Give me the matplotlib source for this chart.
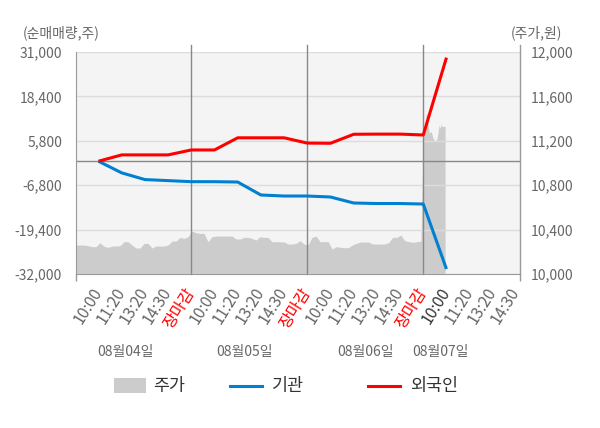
import numpy as np
import matplotlib
matplotlib.use('Agg')
import matplotlib.pyplot as plt
import matplotlib.transforms as mtransforms
from matplotlib.lines import Line2D
from matplotlib.patches import Rectangle
from matplotlib.ticker import FuncFormatter, FixedLocator

plt.rcParams['font.family'] = ['Noto Sans CJK KR', 'DejaVu Sans']

# ---------------- data ----------------
day_labels = ['08월04일', '08월05일', '08월06일', '08월07일']
day_label_pos = [2.14, 7.31, 12.49, 15.76]
tick_labels = ['10:00', '11:20', '13:20', '14:30', '장마감'] * 3 + ['10:00', '11:20', '13:20', '14:30']
tick_pos = list(range(1, 20))

flow_pos = list(range(1, 17))
inst = [0, -3300, -5200, -5500, -5800, -5800, -5900, -9580, -9870, -9870,
        -10150, -11850, -12000, -12000, -12140, -30590]
foreign = [0, 1800, 1800, 1800, 3200, 3200, 6650, 6650, 6650, 5150,
           5100, 7650, 7700, 7700, 7450, 29400]

price_d1 = [10261, 10261, 10261, 10255, 10246, 10246, 10282, 10250, 10240, 10252,
            10252, 10255, 10291, 10291, 10261, 10234, 10234, 10276, 10276, 10234,
            10252, 10252, 10252, 10261, 10297, 10297, 10330, 10321, 10336]
price_d2 = [10387, 10372, 10366, 10366, 10290, 10336, 10342, 10342, 10342, 10342,
            10342, 10315, 10315, 10330, 10330, 10321, 10306, 10336, 10330, 10330,
            10291, 10291, 10291, 10288, 10270, 10270, 10276, 10300, 10270]
price_d3 = [10261, 10330, 10342, 10291, 10291, 10291, 10225, 10246, 10240, 10237,
            10237, 10261, 10276, 10288, 10288, 10288, 10270, 10270, 10270, 10270,
            10282, 10330, 10330, 10351, 10300, 10291, 10285, 10291, 10297]
price_d4 = [11252, 11270, 11300, 11448, 11432, 11342, 11267, 11280, 11280, 11252,
            11222, 11207, 11192, 11207, 11222, 11282, 11342, 11310, 11351, 11325,
            11330, 11330, 11330]

# ---------------- figure ----------------
fig = plt.figure(figsize=(6.0, 4.28), dpi=100)
ax = fig.add_axes([76 / 600, 1 - 274 / 428, 444 / 600, 222 / 428])
ax2 = ax.twinx()

ax.set_zorder(2)
ax2.set_zorder(1)
ax.patch.set_visible(False)
ax2.patch.set_visible(True)
ax2.set_facecolor('#f4f4f4')

x0, x1 = 0.03, 19.17
ax.set_xlim(x0, x1)
ax.set_ylim(-32000, 31000)
ax2.set_ylim(10000, 12000)

# price area
px = np.concatenate([
    np.linspace(0.03, 4.86, len(price_d1)),
    np.linspace(5.03, 9.86, len(price_d2)),
    np.linspace(10.03, 14.90, len(price_d3)),
    np.linspace(15.0, 15.94, len(price_d4)),
])
pv = np.array(price_d1 + price_d2 + price_d3 + price_d4)
ax2.fill_between(px, 10000, pv, color='#cccccc', linewidth=0, zorder=1)

# grid
yt = [-32000, -19400, -6800, 5800, 18400, 31000]
ax.set_yticks(yt)
ax.yaxis.set_major_formatter(FuncFormatter(lambda v, p: f'{int(v):,}'))
ax.grid(axis='y', color='#dcdcdc', linewidth=1)
ax.set_axisbelow(True)
ax2.set_yticks([10000, 10400, 10800, 11200, 11600, 12000])
ax2.yaxis.set_major_formatter(FuncFormatter(lambda v, p: f'{int(v):,}'))

ax.axhline(0, color='#888888', linewidth=1, zorder=1.5)
for d in [5, 10, 15]:
    ax.axvline(d, ymin=0, ymax=1.032, color='#888888', linewidth=1, clip_on=False, zorder=1.5)

# flows
ax.plot(flow_pos, inst, color='#0080d0', linewidth=2.2, zorder=3, solid_capstyle='butt')
ax.plot(flow_pos, foreign, color='#ff0000', linewidth=2.2, zorder=4, solid_capstyle='butt')

# spines
for a in (ax, ax2):
    a.spines['top'].set_visible(False)
    for s in ['left', 'right', 'bottom']:
        a.spines[s].set_color('#999999')
ax2.spines['left'].set_visible(False)
ax2.spines['bottom'].set_visible(False)
ax.spines['right'].set_visible(False)
ax2.spines['right'].set_visible(False)
ax.plot([1, 1], [0, 1.032], transform=ax.transAxes, color='#999999', linewidth=1, clip_on=False)

ax.tick_params(axis='y', length=0, labelsize=10, labelcolor='#666666', pad=10)
ax2.tick_params(axis='y', length=0, labelsize=10, labelcolor='#666666', pad=8)

# x ticks
ax.set_xticks(tick_pos)
ax.set_xticklabels(tick_labels, rotation=58, ha='right', va='center', rotation_mode='anchor')
ax.tick_params(axis='x', which='major', length=0, labelsize=11.5, labelcolor='#666666', pad=11)
for i, t in enumerate(ax.get_xticklabels()):
    if tick_labels[i] == '장마감':
        t.set_color('#ff0000')
    elif i == 15:
        t.set_color('#333333')
ax.xaxis.set_minor_locator(FixedLocator([x0, 5, 10, 15, x1]))
ax.tick_params(axis='x', which='minor', length=5, color='#999999', width=1)

# day labels
trans = mtransforms.blended_transform_factory(ax.transData, fig.transFigure)
for lbl, pos in zip(day_labels, day_label_pos):
    ax.text(pos, 1 - 352 / 428, lbl, transform=trans, ha='center', va='center',
            fontsize=10, color='#666666')

# axis titles
fig.text(23 / 600, 1 - 33 / 428, '(순매매량,주)', ha='left', va='center', fontsize=10, color='#666666')
fig.text(562 / 600, 1 - 33 / 428, '(주가,원)', ha='right', va='center', fontsize=10, color='#666666')

# legend (manual)
ly = 1 - 386 / 428
fig.add_artist(Rectangle((114 / 600, 1 - 393 / 428), 32 / 600, 15 / 428,
                         transform=fig.transFigure, facecolor='#cccccc', edgecolor='none'))
fig.text(153 / 600, ly, '주가', ha='left', va='center', fontsize=12.5, color='#333333')
fig.add_artist(Line2D([230 / 600, 262 / 600], [ly, ly], transform=fig.transFigure,
                      color='#0080d0', linewidth=2.2))
fig.text(272 / 600, ly, '기관', ha='left', va='center', fontsize=12.5, color='#333333')
fig.add_artist(Line2D([368 / 600, 400 / 600], [ly, ly], transform=fig.transFigure,
                      color='#ff0000', linewidth=2.2))
fig.text(410 / 600, ly, '외국인', ha='left', va='center', fontsize=12.5, color='#333333')

fig.savefig('out.png', dpi=100)
